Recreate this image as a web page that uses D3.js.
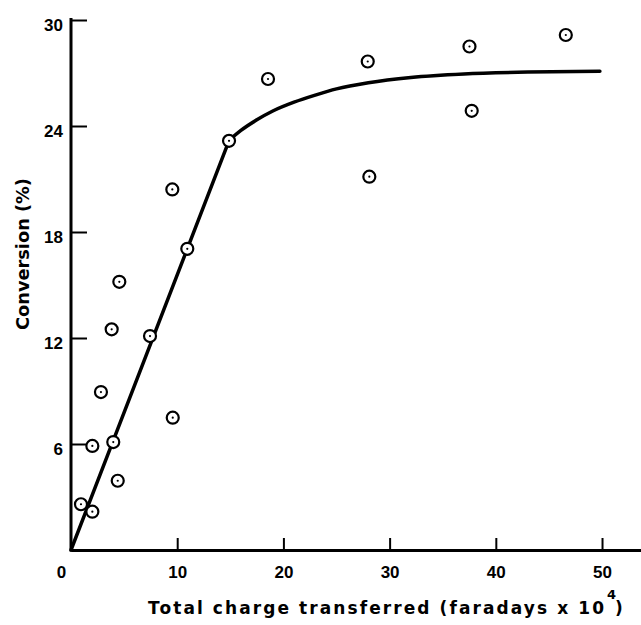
<!DOCTYPE html>
<html>
<head>
<meta charset="utf-8">
<script src="https://cdn.jsdelivr.net/npm/d3@7"></script>
<style>
  html, body { margin: 0; padding: 0; background: #fff; }
  svg { display: block; }
</style>
</head>
<body>
<div id="chart"></div>
<script>
// measured points (charge in faradays x 10^4, conversion in %)
var chargeObs = [0.94, 2.01, 2.01, 3.98, 4.40, 2.82, 3.83, 4.55, 7.44, 9.58, 9.54, 10.95, 14.88, 18.55, 27.94, 28.09, 37.52, 37.73, 46.59];
var conversionObs = [2.59, 2.17, 5.89, 6.11, 3.92, 8.94, 12.49, 15.18, 12.11, 7.49, 20.41, 17.05, 23.16, 26.66, 27.65, 21.13, 28.50, 24.86, 29.15];

// hand drawn line: straight part, then the levelling off part
var chargeStraight = [0, 14.9];
var conversionStraight = [0, 23.2];
var chargeBend = [14.9, 16, 17.5, 19, 21, 23, 25, 28, 32, 37, 43, 49.8];
var conversionBend = [23.2, 23.75, 24.35, 24.85, 25.35, 25.75, 26.1, 26.45, 26.75, 26.95, 27.05, 27.1];

var xTicks = [0, 10, 20, 30, 40, 50];
var yTicks = [6, 12, 18, 24, 30];

var width = 641, height = 625;

var svg = d3.select("#chart").append("svg")
    .attr("width", width)
    .attr("height", height);

// ranges
var x = d3.scaleLinear().domain([0, 53.67]).range([71, 641]);
var y = d3.scaleLinear().domain([0, 30]).range([550, 20]);

var numFont = "'Liberation Sans', Arial, sans-serif";
var titleFont = "'DejaVu Sans', Verdana, sans-serif";

// x axis
var gx = svg.append("g")
    .attr("transform", "translate(0," + y(0) + ")")
    .call(d3.axisBottom(x).tickValues(xTicks).tickSize(-12).tickSizeOuter(0).tickPadding(16));
gx.select(".domain").attr("stroke", "#000").attr("stroke-width", 3);
gx.selectAll(".tick line").attr("stroke", "#000").attr("stroke-width", 2)
    .filter(function (d) { return d === 0; }).remove();
gx.selectAll(".tick text")
    .attr("font-family", numFont).attr("font-size", 17).attr("font-weight", "bold").attr("fill", "#000")
    .attr("dx", function (d) { return d === 0 ? -10 : 0; });

// y axis
var gy = svg.append("g")
    .attr("transform", "translate(" + x(0) + ",0)")
    .call(d3.axisLeft(y).tickValues(yTicks).tickSize(-16).tickSizeOuter(0).tickPadding(8));
gy.select(".domain").attr("stroke", "#000").attr("stroke-width", 3)
    .attr("d", "M0," + (y(0) + 1.5) + "V" + (y(30) - 2));
gy.selectAll(".tick line").attr("stroke", "#000").attr("stroke-width", 2);
gy.selectAll(".tick text")
    .attr("font-family", numFont).attr("font-size", 17).attr("font-weight", "bold").attr("fill", "#000")
    .attr("dy", "0.6em");

// fitted line
function pairs(a, b) { return a.map(function (c, i) { return [c, b[i]]; }); }
var lineStraight = d3.line()
    .x(function (d) { return x(d[0]); })
    .y(function (d) { return y(d[1]); });
var lineBend = d3.line()
    .x(function (d) { return x(d[0]); })
    .y(function (d) { return y(d[1]); })
    .curve(d3.curveMonotoneX);

[[pairs(chargeStraight, conversionStraight), lineStraight],
 [pairs(chargeBend, conversionBend), lineBend]].forEach(function (p) {
    svg.append("path")
        .datum(p[0])
        .attr("fill", "none")
        .attr("stroke", "#000")
        .attr("stroke-width", 3.5)
        .attr("stroke-linecap", "round")
        .attr("stroke-linejoin", "round")
        .attr("d", p[1]);
});

// points: open circle with a dot in the middle
var pts = pairs(chargeObs, conversionObs);
var g = svg.append("g").selectAll("g")
    .data(pts)
    .enter().append("g")
    .attr("transform", function (d) { return "translate(" + x(d[0]) + "," + y(d[1]) + ")"; });
g.append("circle").attr("r", 6).attr("fill", "#fff").attr("stroke", "#000").attr("stroke-width", 2.2);
g.append("circle").attr("r", 1.1).attr("fill", "#000");

// axis titles
svg.append("text")
    .attr("x", 148).attr("y", 614)
    .attr("font-family", titleFont).attr("font-size", 17).attr("font-weight", "bold").attr("fill", "#000")
    .attr("textLength", 456).attr("lengthAdjust", "spacing")
    .text("Total charge transferred (faradays x 10");
svg.append("text")
    .attr("x", 607).attr("y", 599)
    .attr("font-family", titleFont).attr("font-size", 13).attr("font-weight", "bold").attr("fill", "#000")
    .text("4");
svg.append("text")
    .attr("x", 615).attr("y", 614)
    .attr("font-family", titleFont).attr("font-size", 17).attr("font-weight", "bold").attr("fill", "#000")
    .text(")");

svg.append("text")
    .attr("transform", "translate(29,254) rotate(-90)")
    .attr("text-anchor", "middle")
    .attr("font-family", titleFont).attr("font-size", 17).attr("font-weight", "bold").attr("fill", "#000")
    .attr("textLength", 152).attr("lengthAdjust", "spacingAndGlyphs")
    .text("Conversion (%)");
</script>
</body>
</html>
